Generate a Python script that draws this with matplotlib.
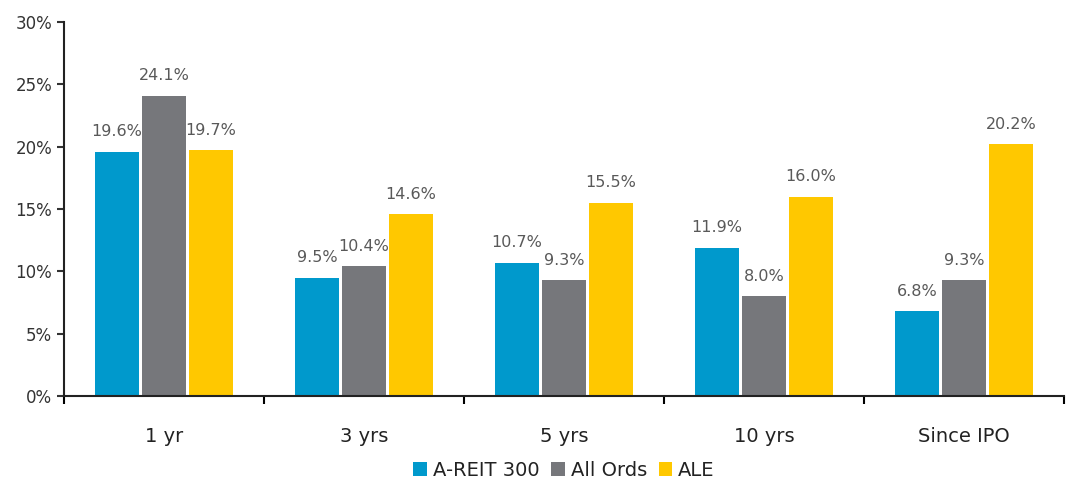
import numpy as np
import matplotlib.pyplot as plt
from matplotlib.ticker import PercentFormatter

categories = ['1 yr', '3 yrs', '5 yrs', '10 yrs', 'Since IPO']
areit = [19.6, 9.5, 10.7, 11.9, 6.8]
all_ords = [24.1, 10.4, 9.3, 8.0, 9.3]
ale = [19.7, 14.6, 15.5, 16.0, 20.2]
series_names = ['A-REIT 300', 'All Ords', 'ALE']
colors = ['#0099CC', '#76777B', '#FFC800']

fig = plt.figure(figsize=(10.72, 4.82), dpi=100)
ax = fig.add_axes([64 / 1072, 86 / 482, 1000 / 1072, 374 / 482])

x = np.arange(len(categories))
width = 0.22
step = 0.235
for k, (vals, name, c) in enumerate(zip([areit, all_ords, ale], series_names, colors)):
    pos = x + (k - 1) * step
    ax.bar(pos, vals, width, color=c, label=name)
    for p, v in zip(pos, vals):
        ax.text(p, v + 1.0, f'{v:.1f}%', ha='center', va='bottom',
                fontsize=11.5, color='#595959')

ax.set_xlim(-0.5, len(categories) - 0.5)
ax.set_ylim(0, 30)
ax.set_yticks(np.arange(0, 31, 5))
ax.yaxis.set_major_formatter(PercentFormatter(decimals=0))
ax.tick_params(axis='y', labelsize=12, colors='#333333', length=5, width=1.5, direction='out')

ax.set_xticks(x)
ax.set_xticklabels(categories, fontsize=14, color='#222222')
ax.tick_params(axis='x', length=0, pad=22)
ax.set_xticks(np.arange(-0.5, len(categories)), minor=True)
ax.tick_params(axis='x', which='minor', length=6, width=1.5, direction='out')

for s in ['top', 'right']:
    ax.spines[s].set_visible(False)
for s in ['left', 'bottom']:
    ax.spines[s].set_linewidth(1.5)
    ax.spines[s].set_color('#222222')

ax.legend(loc='center', bbox_to_anchor=(0.5, -0.198), ncol=3, frameon=False,
          fontsize=14, handlelength=0.7, handleheight=0.7, handletextpad=0.3,
          columnspacing=0.6, labelcolor='#222222', borderpad=0.1)

fig.savefig('out.png', dpi=100)
